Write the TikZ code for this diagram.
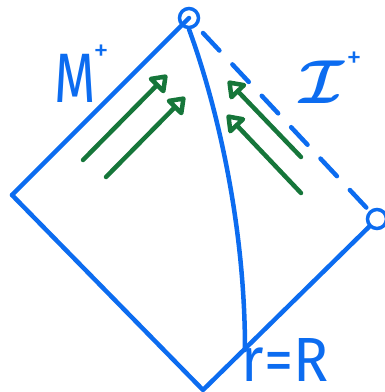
\documentclass[tikz,border=0pt]{standalone}
\usepackage{fontspec}
\setsansfont{Fira Sans}
\usetikzlibrary{arrows.meta}
\definecolor{penblue}{RGB}{12,108,240}
\definecolor{pengreen}{RGB}{22,118,58}
\begin{document}
\begin{tikzpicture}[x=1pt,y=-1pt,
  edge/.style={draw=penblue, line width=4.5pt, line cap=round, line join=round},
  ring/.style={circle, draw=penblue, line width=3.5pt, inner sep=0pt},
  ray/.style={draw=pengreen, line width=4.5pt, line cap=round,
    -{Triangle[open, length=18pt, width=25pt, line width=4.5pt, round]}},
  lbl/.style={text=penblue, inner sep=0pt}]
\useasboundingbox (0,0) rectangle (385,392);
% vertices
\node[ring, minimum size=19pt] (T) at (189,18) {};
\node[ring, minimum size=19pt] (R) at (377,219) {};
\coordinate (L) at (12,195);
\coordinate (B) at (203,390);
\coordinate (D0) at (203,33);
\coordinate (Rr) at (245,350);
% edges
\draw[edge] (L) -- (T.center);
\draw[edge] (L) -- (B) -- (R);
\draw[edge, dash pattern=on 24pt off 19pt] (D0) -- (R);
% r = R curve
\draw[edge] (T.south) .. controls (215,100) and (245,220) .. (Rr);
% rays
\coordinate (a1s) at (83,160);  \coordinate (a1e) at (167,75);
\coordinate (a2s) at (106,177); \coordinate (a2e) at (185,97);
\coordinate (a3s) at (301,157); \coordinate (a3e) at (228,81);
\coordinate (a4s) at (301,193); \coordinate (a4e) at (227,115);
\draw[ray] (a1s) -- (a1e);
\draw[ray] (a2s) -- (a2e);
\draw[ray] (a3s) -- (a3e);
\draw[ray] (a4s) -- (a4e);
% labels
\node[lbl, font=\sffamily\fontsize{56}{56}\selectfont] (lM) at (75,78) {\scalebox{0.95}[1.25]{M}};
\node[lbl, font=\sffamily\fontsize{30}{30}\selectfont] (lMp) at (101,53) {+};
\node[lbl] (lI) at (322,82) {\scalebox{6.2}{\boldmath$\mathcal{I}$}};
\node[lbl, font=\sffamily\fontsize{30}{30}\selectfont] (lIp) at (354,60) {+};
\node[lbl, font=\sffamily\fontsize{52}{52}\selectfont, anchor=base] (lr) at (285,381) {\scalebox{1.12}[1.2]{r=R}};
\end{tikzpicture}
\end{document}
